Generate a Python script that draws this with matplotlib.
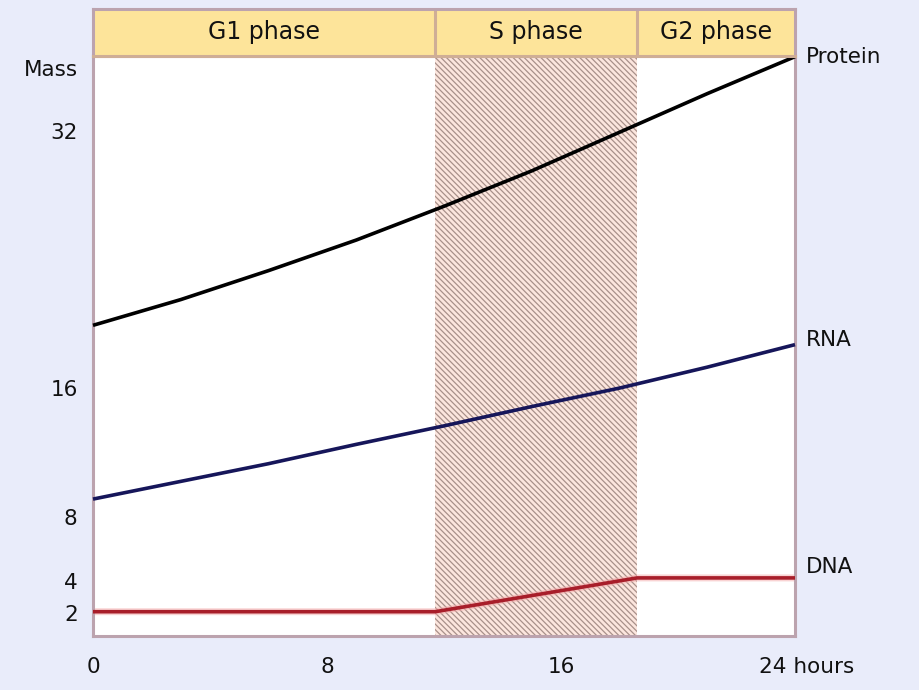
import matplotlib.pyplot as plt

hours = [0, 3, 6, 9, 12, 15, 18, 21, 24]
protein = [19.9, 21.5, 23.3, 25.2, 27.3, 29.5, 31.9, 34.3, 36.6]
rna = [9.1, 10.2, 11.3, 12.5, 13.65, 14.85, 16.0, 17.3, 18.7]
dna_hours = [0, 11.7, 18.6, 24]
dna = [2.1, 2.1, 4.2, 4.2]

phases = ['G1 phase', 'S phase', 'G2 phase']
phase_edges = [0, 11.7, 18.6, 24]
mass_ticks = [2, 4, 8, 16, 32]
hour_ticks = [0, 8, 16]

BG = '#E9ECFA'
BORDER = '#BCA3AE'
HEADER = '#FDE49A'
TXT = '#111111'

plt.rcParams['font.family'] = ['DejaVu Sans']
plt.rcParams['hatch.linewidth'] = 0.9

fig = plt.figure(figsize=(9.2, 6.9), dpi=100, facecolor=BG)
W, H = 920, 690
left, right, top, hdr_top, bottom = 93, 795, 56, 9, 636

ax = fig.add_axes([left / W, 1 - bottom / H, (right - left) / W, (bottom - top) / H])
hdr = fig.add_axes([left / W, 1 - top / H, (right - left) / W, (top - hdr_top) / H])

# header strip with phase names
hdr.set_facecolor(HEADER)
hdr.set_xlim(0, 24)
hdr.set_ylim(0, 1)
hdr.set_xticks([])
hdr.set_yticks([])
for x in phase_edges[1:-1]:
    hdr.axvline(x, color='#CFAE96', lw=2.2)
for name, a, b in zip(phases, phase_edges[:-1], phase_edges[1:]):
    hdr.text((a + b) / 2, 0.5, name, ha='center', va='center',
             fontsize=17, color=TXT)
for side, sp in hdr.spines.items():
    sp.set_color('#CFAE96' if side == 'bottom' else BORDER)
    sp.set_linewidth(2.2)

# main plot
ax.set_facecolor('white')
ax.set_xlim(0, 24)
ax.set_ylim(0.59, 36.64)
ax.axvspan(phase_edges[1], phase_edges[2], facecolor='#FCE6DE',
           edgecolor='#A8908A', hatch='\\\\\\\\\\\\', lw=0, zorder=1)

ax.plot(hours, protein, color='black', lw=2.6, zorder=3, clip_on=False,
        solid_capstyle='butt')
ax.plot(hours, rna, color='#16165A', lw=2.6, zorder=3, clip_on=False,
        solid_capstyle='butt')
ax.plot(dna_hours, dna, color='#F4A8A8', lw=5, alpha=0.5, zorder=2)
ax.plot(dna_hours, dna, color='#A81E2A', lw=2.6, zorder=3,
        solid_capstyle='butt')

ax.set_yticks(mass_ticks)
ax.set_yticklabels([str(v) for v in mass_ticks])
ax.set_xticks(hour_ticks)
ax.set_xticklabels([str(v) for v in hour_ticks])
ax.tick_params(axis='both', length=0, labelsize=15.5, labelcolor=TXT)
ax.tick_params(axis='y', pad=11)
ax.tick_params(axis='x', pad=15)
for sp in ax.spines.values():
    sp.set_color(BORDER)
    sp.set_linewidth(2.2)

ax.annotate('24 hours', xy=(24, 0), xycoords=('data', 'axes fraction'),
            xytext=(-26, -15), textcoords='offset points',
            ha='left', va='top', fontsize=15.5, color=TXT)
fig.text(78 / W, 1 - 70 / H, 'Mass', ha='right', va='center',
         fontsize=15.5, color=TXT)

# series labels at the right end
for name, val, dy in [('Protein', protein[-1], 0), ('RNA', rna[-1], 3),
                      ('DNA', dna[-1], 8)]:
    ax.annotate(name, xy=(24, val), xytext=(8, dy), textcoords='offset points',
                ha='left', va='center', fontsize=15.5, color=TXT,
                annotation_clip=False)

fig.savefig('out.png', dpi=100, facecolor=BG)
